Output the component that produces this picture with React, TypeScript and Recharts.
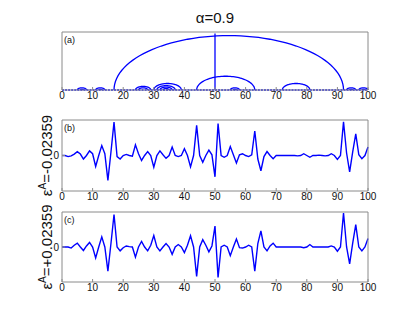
import { LineChart, Line, XAxis, YAxis, Label } from "recharts";

const siteTicks = [0, 10, 20, 30, 40, 50, 60, 70, 80, 90, 100];

// arcs of panel (a): [from, to] site pairs
const arcPairs: [number, number][] = [
  [5, 8], [6, 7], [11, 14], [12, 13], [17, 92], [24, 29], [25, 28],
  [30, 39], [31, 37], [32, 36], [33, 35], [44, 63], [55, 58], [56, 57],
  [72, 81], [93, 96], [94, 95], [97, 100], [98, 99],
];
const spike = { site: 50, top: 39 };
const chainEnds = [0, 100];

// eigenvector, eps = -0.02359
const modeMinus = [
  0, 0, -0.03, -0.01, 0.04, 0.11, 0.04, -0.1, 0, 0.13,
  0.05, -0.31, 0, 0.28, 0.05, -0.7, 0.1, 0.94, -0.03, -0.1,
  0, 0.03, 0, -0.02, 0.3, 0.05, -0.14, 0, 0.11, 0,
  -0.33, 0, 0.13, 0.02, -0.08, 0, 0.24, 0, -0.03, 0,
  0.19, 0, -0.32, 0, 0.85, 0, -0.19, 0, 0.15, 0.02,
  -0.6, 0.9, 0, -0.05, 0, 0.25, 0.02, -0.21, 0.02, 0.05,
  0, -0.03, 0.02, 0.69, -0.1, -0.43, -0.03, 0.11, 0, -0.09,
  0, 0, 0, 0, 0, 0, 0, -0.01, 0, 0.05,
  0, -0.05, 0, 0, 0.01, 0, -0.01, 0, 0.05, 0,
  -0.11, 0, 0.95, 0.07, -0.46, 0.1, 0.61, 0.02, -0.09, 0, 0.24,
];

// eigenvector, eps = +0.02359
const modePlus = [
  0, 0, 0, -0.03, 0.05, 0.11, 0, -0.1, 0.03, 0.13,
  0, -0.31, 0, 0.29, 0, -0.69, 0.1, 0.93, 0, -0.11,
  -0.02, 0.03, 0.01, 0, -0.29, 0, 0.16, 0, -0.11, 0.05,
  0.33, 0, -0.11, 0, 0.1, 0, -0.21, 0, 0.07, 0,
  -0.16, 0.05, 0.32, 0, -0.84, 0, 0.21, 0.05, -0.14, 0.03,
  0.6, -0.87, 0, 0.05, 0, -0.25, 0, 0.23, -0.02, -0.03,
  0, 0.05, 0, -0.69, 0.1, 0.46, 0, -0.11, 0.03, 0.11,
  0, 0, 0, 0, 0, 0, 0, 0, 0, -0.02,
  0, 0.07, 0, 0, 0, 0, 0, 0, 0.03, 0,
  -0.12, 0, 0.97, 0, -0.48, 0.11, 0.64, 0, -0.11, 0, 0.24,
];

const BLUE = "#0000ff";
const BOX = "#8a8a8a";
const FONT = "Liberation Sans, Arial, sans-serif";
// axes have 1px width/height (0 would not render), so margins are 1 less
const M_LEFT = 61;
const M_RIGHT = 46;

function semicircle([a, b]: [number, number]) {
  const c = (a + b) / 2;
  const r = (b - a) / 2;
  const pts = [];
  for (let k = 0; k <= 60; k++) {
    const t = Math.PI * (1 - k / 60);
    pts.push({ x: c + r * Math.cos(t), y: r * Math.sin(t) });
  }
  return pts;
}

function SideText(props: any) {
  const { viewBox, tag, eps } = props;
  const { x, y, width, height } = viewBox;
  const left = x + width;
  const cy = y + height / 2;
  const bx = left - 10;
  return (
    <g fontFamily={FONT} fill="#111">
      <text x={left + 2} y={y + 11} fontSize={9}>
        {tag}
      </text>
      {eps && (
        <text
          x={bx}
          y={cy}
          fontSize={15}
          textAnchor="middle"
          transform={`rotate(-90 ${bx} ${cy})`}
        >
          ε<tspan dy={-6} fontSize={10}>A</tspan>
          <tspan dy={6}>={eps}</tspan>
        </text>
      )}
    </g>
  );
}

function Title(props: any) {
  const { viewBox } = props;
  const { x, y, width, height } = viewBox;
  return (
    <text
      x={x + width / 2}
      y={y + height - 9}
      textAnchor="middle"
      fontSize={15}
      fontFamily={FONT}
      fill="#111"
    >
      α=0.9
    </text>
  );
}

const tickStyle = { fill: "#111", fontSize: 10, fontFamily: FONT };

function boxAxes(yDomain: [number, number], yTicks: number[], showY: boolean, tag: string, eps?: string, title?: boolean) {
  return [
    <XAxis
      key="xb"
      dataKey="x"
      type="number"
      domain={[0, 100]}
      ticks={siteTicks}
      height={15}
      tickSize={-3}
      tickMargin={5}
      tick={tickStyle}
      axisLine={{ stroke: BOX }}
      tickLine={{ stroke: BOX }}
    />,
    <XAxis
      key="xt"
      xAxisId="top"
      orientation="top"
      dataKey="x"
      type="number"
      domain={[0, 100]}
      ticks={siteTicks}
      height={1}
      tickSize={-3}
      tick={false}
      axisLine={{ stroke: BOX }}
      tickLine={{ stroke: BOX }}
    >
      {title && <Label content={<Title />} />}
    </XAxis>,
    <YAxis
      key="yl"
      type="number"
      domain={yDomain}
      ticks={yTicks}
      width={1}
      tickSize={-3}
      tickMargin={6}
      tick={showY ? tickStyle : false}
      axisLine={{ stroke: BOX }}
      tickLine={showY ? { stroke: BOX } : false}
    >
      <Label content={<SideText tag={tag} eps={eps} />} />
    </YAxis>,
    <YAxis
      key="yr"
      yAxisId="right"
      orientation="right"
      type="number"
      domain={yDomain}
      ticks={yTicks}
      width={1}
      tickSize={-3}
      tick={false}
      axisLine={{ stroke: BOX }}
      tickLine={showY ? { stroke: BOX } : false}
    />,
  ];
}

function ArcPanel() {
  return (
    <LineChart
      width={415}
      height={105}
      margin={{ top: 31, right: M_RIGHT, bottom: 0, left: M_LEFT }}
    >
      {boxAxes([0, 40], [0], false, "(a)", undefined, true)}
      <Line
        data={chainEnds.map((s) => ({ x: s, y: 0 }))}
        dataKey="y"
        stroke={BLUE}
        strokeWidth={1.6}
        strokeDasharray="2 1.06"
        dot={false}
        isAnimationActive={false}
      />
      {arcPairs.map((p) => (
        <Line
          key={p.join("-")}
          data={semicircle(p)}
          dataKey="y"
          stroke={BLUE}
          strokeWidth={1.3}
          dot={false}
          isAnimationActive={false}
        />
      ))}
      <Line
        data={[
          { x: spike.site, y: 0 },
          { x: spike.site, y: spike.top },
        ]}
        dataKey="y"
        stroke={BLUE}
        strokeWidth={1.3}
        dot={false}
        isAnimationActive={false}
      />
    </LineChart>
  );
}

function ModePanel({ values, tag, eps, top, height }: { values: number[]; tag: string; eps: string; top: number; height: number }) {
  const data = values.map((v, i) => ({ x: i, v }));
  return (
    <LineChart
      width={415}
      height={top + height + 15}
      data={data}
      margin={{ top: top - 1, right: M_RIGHT, bottom: 0, left: M_LEFT }}
    >
      {boxAxes([-1, 1], [0], true, tag, eps)}
      <Line
        dataKey="v"
        type="linear"
        stroke={BLUE}
        strokeWidth={1.4}
        dot={false}
        isAnimationActive={false}
      />
    </LineChart>
  );
}

export default function App() {
  return (
    <div
      style={{
        position: "absolute",
        left: 0,
        top: 0,
        width: 415,
        height: 321,
        background: "#fff",
      }}
    >
      <div style={{ position: "absolute", left: 0, top: 0 }}>
        <ArcPanel />
      </div>
      <div style={{ position: "absolute", left: 0, top: 100 }}>
        <ModePanel values={modeMinus} tag="(b)" eps="-0.02359" top={20} height={71} />
      </div>
      <div style={{ position: "absolute", left: 0, top: 192 }}>
        <ModePanel values={modePlus} tag="(c)" eps="+0.02359" top={20} height={70} />
      </div>
    </div>
  );
}
